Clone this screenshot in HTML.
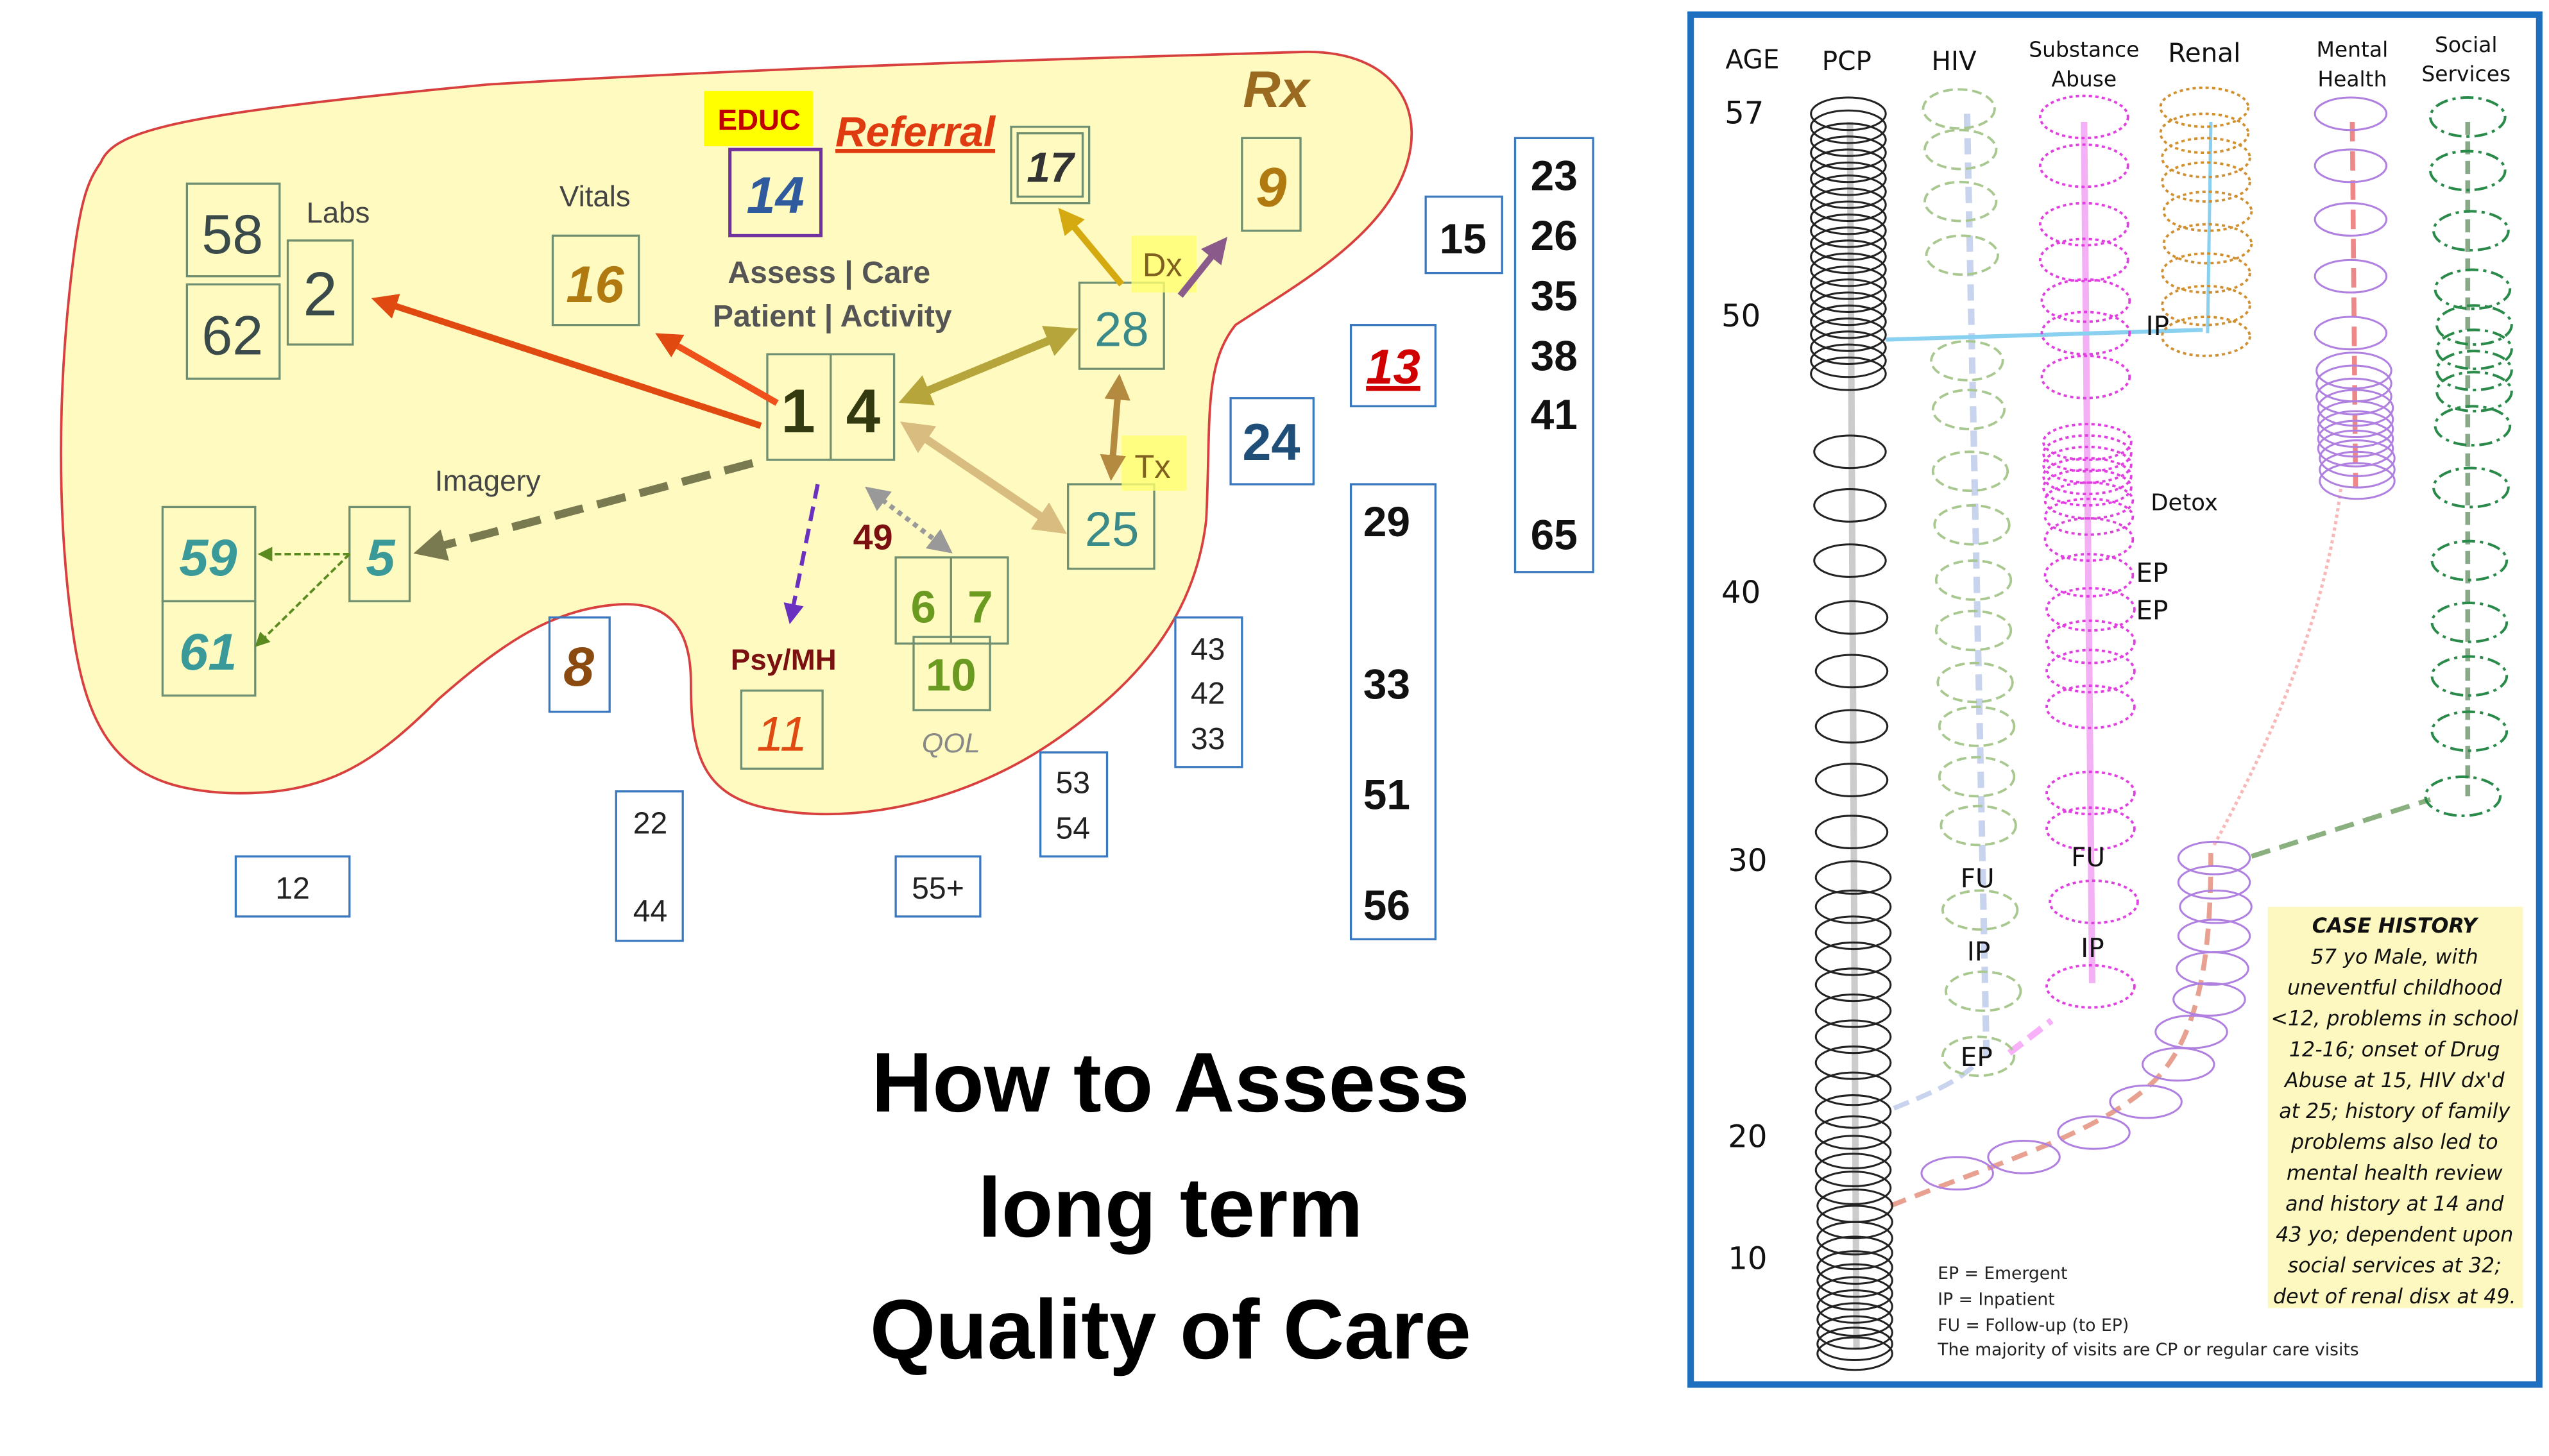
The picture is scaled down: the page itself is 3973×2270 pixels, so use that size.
<!DOCTYPE html>
<html><head><meta charset="utf-8"><style>
html,body{margin:0;padding:0;background:#fff}
svg{display:block}
text{font-family:"Liberation Sans",sans-serif}
.r text{font-family:"DejaVu Sans",sans-serif}
</style></head><body>
<svg width="3973" height="2270" viewBox="0 0 1568 896" preserveAspectRatio="none" xmlns="http://www.w3.org/2000/svg">
<defs>
<marker id="ao" markerWidth="4" markerHeight="4" refX="2" refY="2" orient="auto"><path d="M0,0L4,2L0,4z" fill="#e04a10"/></marker>
<marker id="aol" markerWidth="4" markerHeight="4" refX="2" refY="2" orient="auto-start-reverse"><path d="M0,0L4,2L0,4z" fill="#b5a53a"/></marker>
<marker id="ag" markerWidth="4" markerHeight="4" refX="2" refY="2" orient="auto"><path d="M0,0L4,2L0,4z" fill="#d4aa10"/></marker>
<marker id="ap" markerWidth="4" markerHeight="4" refX="2" refY="2" orient="auto"><path d="M0,0L4,2L0,4z" fill="#8a5a8a"/></marker>
<marker id="ab" markerWidth="4" markerHeight="4" refX="2" refY="2" orient="auto-start-reverse"><path d="M0,0L4,2L0,4z" fill="#b48a40"/></marker>
<marker id="at" markerWidth="4" markerHeight="4" refX="2" refY="2" orient="auto-start-reverse"><path d="M0,0L4,2L0,4z" fill="#d8bc80"/></marker>
<marker id="ad" markerWidth="4" markerHeight="4" refX="2" refY="2" orient="auto"><path d="M0,0L4,2L0,4z" fill="#7a7a50"/></marker>
<marker id="av" markerWidth="5" markerHeight="5" refX="2.5" refY="2.5" orient="auto"><path d="M0,0L5,2.5L0,5z" fill="#6a30c0"/></marker>
<marker id="ay" markerWidth="5" markerHeight="5" refX="2.5" refY="2.5" orient="auto-start-reverse"><path d="M0,0L5,2.5L0,5z" fill="#999"/></marker>
<marker id="agr" markerWidth="6" markerHeight="6" refX="3" refY="3" orient="auto"><path d="M0,0L6,3L0,6z" fill="#5a8a20"/></marker>
</defs>

<!-- blob -->
<path d="M62,100 C70,80 110,70 300,52 C500,40 700,35 800,32 C860,30 880,70 862,110 C845,150 790,180 760,200 C740,225 745,260 742,320 C735,380 700,420 650,455 C600,490 530,510 470,497 C430,488 425,460 425,420 C425,385 410,370 380,372 C340,375 310,395 270,430 C230,470 200,490 140,488 C80,485 55,460 45,390 C35,320 35,240 45,160 C50,120 55,110 62,100 Z" fill="#fffbc0" stroke="#d84040" stroke-width="1.5"/>

<g fill="none" stroke="#6f8f70" stroke-width="1.3">
<rect x="115" y="113" width="57" height="57"/><rect x="115" y="175" width="57" height="58"/><rect x="177" y="148" width="40" height="64"/>
<rect x="340" y="145" width="53" height="55"/>
<rect x="622" y="78" width="48" height="47"/><rect x="626" y="82" width="40" height="39"/>
<rect x="764" y="85" width="36" height="57"/>
<rect x="472" y="218" width="78" height="65"/><line x1="511" y1="218" x2="511" y2="283"/>
<rect x="664" y="174" width="52" height="53"/>
<rect x="657" y="298" width="53" height="52"/>
<rect x="215" y="312" width="37" height="58"/><rect x="100" y="312" width="57" height="58"/><rect x="100" y="370" width="57" height="58"/>
<rect x="456" y="425" width="50" height="48"/>
<rect x="551" y="343" width="69" height="53"/><line x1="585" y1="343" x2="585" y2="396"/>
<rect x="562" y="392" width="47" height="45"/>
</g>
<rect x="433" y="56" width="67" height="34" fill="#ffff00"/>
<rect x="449" y="92" width="56" height="53" fill="none" stroke="#7030a0" stroke-width="2"/>
<rect x="696" y="145" width="40" height="35" fill="#ffff70" opacity=".8"/>
<rect x="690" y="268" width="40" height="34" fill="#ffff70" opacity=".8"/>

<g fill="none" stroke="#3a78c0" stroke-width="1.3">
<rect x="877" y="121" width="47" height="47"/><rect x="831" y="200" width="52" height="50"/><rect x="757" y="245" width="51" height="53"/>
<rect x="932" y="85" width="48" height="267"/><rect x="831" y="298" width="52" height="280"/>
<rect x="723" y="380" width="41" height="92"/><rect x="640" y="463" width="41" height="64"/>
<rect x="551" y="527" width="52" height="37"/><rect x="379" y="487" width="41" height="92"/>
<rect x="145" y="527" width="70" height="37"/><rect x="338" y="380" width="37" height="58"/>
</g>

<!-- arrows -->
<line x1="468" y1="262" x2="236" y2="186" stroke="#e04a10" stroke-width="4" marker-end="url(#ao)"/>
<line x1="478" y1="248" x2="410" y2="209" stroke="#f0501a" stroke-width="4" marker-end="url(#ao)"/>
<line x1="562" y1="244" x2="654" y2="206" stroke="#b5a53a" stroke-width="5" marker-start="url(#aol)" marker-end="url(#aol)"/>
<line x1="690" y1="175" x2="656" y2="134" stroke="#d4aa10" stroke-width="4" marker-end="url(#ag)"/>
<line x1="726" y1="182" x2="750" y2="152" stroke="#8a5a8a" stroke-width="4" marker-end="url(#ap)"/>
<line x1="688" y1="238" x2="684" y2="288" stroke="#b48a40" stroke-width="4" marker-start="url(#ab)" marker-end="url(#ab)"/>
<line x1="562" y1="265" x2="648" y2="323" stroke="#d8bc80" stroke-width="5" marker-start="url(#at)" marker-end="url(#at)"/>
<line x1="463" y1="285" x2="264" y2="338" stroke="#7a7a50" stroke-width="5" stroke-dasharray="18,9" marker-end="url(#ad)"/>
<line x1="503" y1="298" x2="487" y2="378" stroke="#6a30c0" stroke-width="2.5" stroke-dasharray="9,5" marker-end="url(#av)"/>
<line x1="538" y1="304" x2="580" y2="336" stroke="#999" stroke-width="3" stroke-dasharray="3,3" marker-start="url(#ay)" marker-end="url(#ay)"/>
<line x1="215" y1="341" x2="163" y2="341" stroke="#5a8a20" stroke-width="1.5" stroke-dasharray="4,2" marker-end="url(#agr)"/>
<line x1="215" y1="341" x2="160" y2="395" stroke="#5a8a20" stroke-width="1.5" stroke-dasharray="4,2" marker-end="url(#agr)"/>

<!-- texts -->
<g text-anchor="middle">
<text x="143" y="156" font-size="34" fill="#3a4a4a">58</text>
<text x="143" y="218" font-size="34" fill="#3a4a4a">62</text>
<text x="197" y="194" font-size="38" fill="#3a4a4a">2</text>
<text x="208" y="137" font-size="18" fill="#444">Labs</text>
<text x="366" y="127" font-size="18" fill="#444">Vitals</text>
<text x="366" y="186" font-size="32" font-style="italic" font-weight="bold" fill="#b07a10">16</text>
<text x="467" y="80" font-size="18" font-weight="bold" fill="#c00000">EDUC</text>
<text x="477" y="131" font-size="32" font-style="italic" font-weight="bold" fill="#2f5a9e">14</text>
<text x="563" y="90" font-size="26" font-style="italic" font-weight="bold" fill="#e03a10" text-decoration="underline">Referral</text>
<text x="646" y="112" font-size="26" font-style="italic" font-weight="bold" fill="#333">17</text>
<text x="785" y="66" font-size="32" font-style="italic" font-weight="bold" fill="#9a6a20">Rx</text>
<text x="782" y="127" font-size="34" font-style="italic" font-weight="bold" fill="#b07a10">9</text>
<text x="510" y="174" font-size="19" font-weight="bold" fill="#555">Assess  |   Care</text>
<text x="512" y="201" font-size="19" font-weight="bold" fill="#555">Patient  | Activity</text>
<text x="491" y="266" font-size="38" font-weight="bold" fill="#333a10">1</text>
<text x="531" y="266" font-size="38" font-weight="bold" fill="#333a10">4</text>
<text x="690" y="213" font-size="30" fill="#3a8a8a">28</text>
<text x="715" y="170" font-size="20" fill="#806020">Dx</text>
<text x="709" y="294" font-size="20" fill="#806020">Tx</text>
<text x="684" y="336" font-size="30" fill="#3a8a8a">25</text>
<text x="900" y="156" font-size="26" font-weight="bold" fill="#111">15</text>
<text x="857" y="236" font-size="30" font-style="italic" font-weight="bold" fill="#d00000" text-decoration="underline">13</text>
<text x="782" y="283" font-size="32" font-weight="bold" fill="#1f4e79">24</text>
<g font-size="26" font-weight="bold" fill="#111">
<text x="956" y="117">23</text><text x="956" y="154">26</text><text x="956" y="191">35</text><text x="956" y="228">38</text><text x="956" y="264">41</text><text x="956" y="338">65</text>
<text x="853" y="330">29</text><text x="853" y="430">33</text><text x="853" y="498">51</text><text x="853" y="566">56</text>
</g>
<g font-size="19" fill="#222">
<text x="743" y="406">43</text><text x="743" y="433">42</text><text x="743" y="461">33</text>
<text x="660" y="488">53</text><text x="660" y="516">54</text>
<text x="577" y="553">55+</text>
<text x="400" y="513">22</text><text x="400" y="567">44</text>
<text x="180" y="553">12</text>
</g>
<text x="356" y="422" font-size="34" font-style="italic" font-weight="bold" fill="#8a4a10">8</text>
<text x="300" y="302" font-size="18" fill="#444">Imagery</text>
<text x="234" y="354" font-size="32" font-style="italic" font-weight="bold" fill="#3a9a9a">5</text>
<text x="128" y="354" font-size="32" font-style="italic" font-weight="bold" fill="#3a9a9a">59</text>
<text x="128" y="412" font-size="32" font-style="italic" font-weight="bold" fill="#3a9a9a">61</text>
<text x="482" y="412" font-size="18" font-weight="bold" fill="#7a1010">Psy/MH</text>
<text x="481" y="462" font-size="30" font-style="italic" fill="#e04a10">11</text>
<text x="537" y="338" font-size="22" font-weight="bold" fill="#7a1010">49</text>
<text x="568" y="383" font-size="28" font-weight="bold" fill="#6a9a20">6</text>
<text x="603" y="383" font-size="28" font-weight="bold" fill="#6a9a20">7</text>
<text x="585" y="425" font-size="28" font-weight="bold" fill="#6a9a20">10</text>
<text x="585" y="463" font-size="17" font-style="italic" fill="#888">QOL</text>
<g font-size="52" font-weight="bold" fill="#000">
<text x="720" y="684">How to Assess</text>
<text x="720" y="761">long term</text>
<text x="720" y="836">Quality of Care</text>
</g>
</g>

<!-- right panel -->
<g class="r">
<rect x="1040" y="9" width="522" height="843" fill="#fff" stroke="#1f6fc0" stroke-width="4"/>
<g text-anchor="middle" fill="#111">
<text x="1078" y="42" font-size="16">AGE</text><text x="1136" y="43" font-size="16">PCP</text><text x="1202" y="43" font-size="16">HIV</text>
<text x="1282" y="35" font-size="13">Substance</text><text x="1282" y="53" font-size="13">Abuse</text>
<text x="1356" y="38" font-size="16">Renal</text>
<text x="1447" y="35" font-size="13">Mental</text><text x="1447" y="53" font-size="13">Health</text>
<text x="1517" y="32" font-size="13">Social</text><text x="1517" y="50" font-size="13">Services</text>
<g font-size="19"><text x="1073" y="76">57</text><text x="1071" y="201">50</text><text x="1071" y="371">40</text><text x="1075" y="536">30</text><text x="1075" y="706">20</text><text x="1075" y="781">10</text></g>
</g>
<!-- guide lines -->
<line x1="1138" y1="75" x2="1142" y2="830" stroke="#ccc" stroke-width="4"/>
<line x1="1210" y1="70" x2="1222" y2="650" stroke="#c8d4ee" stroke-width="4" stroke-dasharray="10,5"/>
<line x1="1282" y1="75" x2="1287" y2="605" stroke="#f4b0f4" stroke-width="4"/>
<line x1="1360" y1="75" x2="1358" y2="205" stroke="#8ad0f0" stroke-width="2"/>
<line x1="1447" y1="75" x2="1449" y2="300" stroke="#e88" stroke-width="3" stroke-dasharray="12,6"/>
<line x1="1518" y1="75" x2="1518" y2="490" stroke="#8a8" stroke-width="3" stroke-dasharray="8,4"/>
<line x1="1160" y1="209" x2="1355" y2="203" stroke="#8ad0f0" stroke-width="2.5"/>
<path d="M1165,682 C1190,672 1205,665 1215,655" fill="none" stroke="#c8d4ee" stroke-width="3" stroke-dasharray="10,5"/>
<path d="M1236,648 L1262,628" fill="none" stroke="#f8b0f8" stroke-width="4" stroke-dasharray="10,5"/>
<path d="M1163,742 C1230,715 1300,695 1330,660 C1355,630 1360,580 1360,525" fill="none" stroke="#e8a090" stroke-width="3" stroke-dasharray="10,6"/>
<path d="M1385,527 L1495,492" stroke="#8ab080" stroke-width="3" stroke-dasharray="12,6"/>
<path d="M1362,520 C1400,450 1430,380 1440,300" fill="none" stroke="#f8b8b8" stroke-width="2" stroke-dasharray="2,2"/>

<!-- PCP -->
<g fill="none" stroke="#222" stroke-width="1.2">
<ellipse cx="1137" cy="70" rx="23" ry="10"/><ellipse cx="1137" cy="78" rx="23" ry="10"/><ellipse cx="1137" cy="86" rx="23" ry="10"/><ellipse cx="1137" cy="94" rx="23" ry="10"/><ellipse cx="1137" cy="102" rx="23" ry="10"/><ellipse cx="1137" cy="110" rx="23" ry="10"/><ellipse cx="1137" cy="118" rx="23" ry="10"/><ellipse cx="1137" cy="126" rx="23" ry="10"/><ellipse cx="1137" cy="134" rx="23" ry="10"/><ellipse cx="1137" cy="142" rx="23" ry="10"/><ellipse cx="1137" cy="150" rx="23" ry="10"/><ellipse cx="1137" cy="158" rx="23" ry="10"/><ellipse cx="1137" cy="166" rx="23" ry="10"/><ellipse cx="1137" cy="174" rx="23" ry="10"/><ellipse cx="1137" cy="182" rx="23" ry="10"/><ellipse cx="1137" cy="190" rx="23" ry="10"/><ellipse cx="1137" cy="198" rx="23" ry="10"/><ellipse cx="1137" cy="206" rx="23" ry="10"/><ellipse cx="1137" cy="214" rx="23" ry="10"/><ellipse cx="1137" cy="222" rx="23" ry="10"/><ellipse cx="1137" cy="230" rx="23" ry="10"/>
<ellipse cx="1138" cy="278" rx="22" ry="10"/><ellipse cx="1138" cy="311" rx="22" ry="10"/><ellipse cx="1138" cy="345" rx="22" ry="10"/><ellipse cx="1139" cy="380" rx="22" ry="10"/><ellipse cx="1139" cy="413" rx="22" ry="10"/><ellipse cx="1139" cy="447" rx="22" ry="10"/><ellipse cx="1139" cy="480" rx="22" ry="10"/><ellipse cx="1139" cy="512" rx="22" ry="10"/>
<ellipse cx="1140" cy="540" rx="23" ry="10"/><ellipse cx="1140" cy="558" rx="23" ry="10"/><ellipse cx="1140" cy="574" rx="23" ry="10"/><ellipse cx="1140" cy="590" rx="23" ry="10"/><ellipse cx="1140" cy="606" rx="23" ry="10"/><ellipse cx="1140" cy="622" rx="23" ry="10"/><ellipse cx="1140" cy="638" rx="23" ry="10"/><ellipse cx="1140" cy="654" rx="23" ry="10"/><ellipse cx="1140" cy="670" rx="23" ry="10"/><ellipse cx="1140" cy="684" rx="23" ry="10"/><ellipse cx="1140" cy="697" rx="23" ry="10"/><ellipse cx="1140" cy="709" rx="23" ry="10"/><ellipse cx="1140" cy="720" rx="23" ry="10"/><ellipse cx="1140" cy="731" rx="23" ry="10"/><ellipse cx="1141" cy="742" rx="23" ry="10"/><ellipse cx="1141" cy="752" rx="23" ry="10"/><ellipse cx="1141" cy="762" rx="23" ry="10"/><ellipse cx="1141" cy="771" rx="23" ry="10"/><ellipse cx="1141" cy="780" rx="23" ry="10"/><ellipse cx="1141" cy="788" rx="23" ry="10"/><ellipse cx="1141" cy="796" rx="23" ry="10"/><ellipse cx="1141" cy="804" rx="23" ry="10"/><ellipse cx="1141" cy="812" rx="23" ry="10"/><ellipse cx="1141" cy="820" rx="23" ry="10"/><ellipse cx="1141" cy="827" rx="23" ry="10"/><ellipse cx="1141" cy="833" rx="23" ry="10"/>
</g>
<!-- HIV -->
<g fill="none" stroke="#a8c890" stroke-width="1.5" stroke-dasharray="6,3">
<ellipse cx="1205" cy="67" rx="22" ry="12"/><ellipse cx="1206" cy="92" rx="22" ry="12"/><ellipse cx="1206" cy="124" rx="22" ry="12"/><ellipse cx="1207" cy="157" rx="22" ry="12"/>
<ellipse cx="1210" cy="222" rx="22" ry="12"/><ellipse cx="1211" cy="252" rx="22" ry="12"/><ellipse cx="1212" cy="290" rx="23" ry="12"/><ellipse cx="1213" cy="323" rx="23" ry="12"/><ellipse cx="1214" cy="357" rx="23" ry="12"/><ellipse cx="1214" cy="388" rx="23" ry="12"/><ellipse cx="1215" cy="420" rx="23" ry="12"/><ellipse cx="1216" cy="447" rx="23" ry="12"/><ellipse cx="1216" cy="478" rx="23" ry="12"/><ellipse cx="1217" cy="508" rx="23" ry="12"/><ellipse cx="1218" cy="560" rx="23" ry="12"/><ellipse cx="1220" cy="610" rx="23" ry="12"/><ellipse cx="1217" cy="650" rx="22" ry="12"/>
</g>
<!-- Substance -->
<g fill="none" stroke="#e040e0" stroke-width="1.5" stroke-dasharray="2,2">
<ellipse cx="1282" cy="72" rx="27" ry="13"/><ellipse cx="1282" cy="102" rx="27" ry="13"/><ellipse cx="1282" cy="138" rx="27" ry="13"/><ellipse cx="1282" cy="160" rx="27" ry="13"/><ellipse cx="1283" cy="185" rx="27" ry="13"/><ellipse cx="1283" cy="205" rx="27" ry="13"/><ellipse cx="1283" cy="232" rx="27" ry="13"/>
<ellipse cx="1284" cy="272" rx="27" ry="11"/><ellipse cx="1284" cy="279" rx="27" ry="11"/><ellipse cx="1284" cy="286" rx="27" ry="11"/><ellipse cx="1284" cy="293" rx="27" ry="11"/><ellipse cx="1284" cy="300" rx="27" ry="11"/><ellipse cx="1285" cy="308" rx="27" ry="11"/><ellipse cx="1285" cy="318" rx="27" ry="11"/>
<ellipse cx="1285" cy="332" rx="27" ry="13"/><ellipse cx="1285" cy="354" rx="27" ry="13"/><ellipse cx="1286" cy="375" rx="27" ry="13"/><ellipse cx="1286" cy="395" rx="27" ry="13"/><ellipse cx="1286" cy="413" rx="27" ry="13"/><ellipse cx="1286" cy="435" rx="27" ry="13"/><ellipse cx="1286" cy="488" rx="27" ry="13"/><ellipse cx="1286" cy="510" rx="27" ry="13"/><ellipse cx="1288" cy="555" rx="27" ry="13"/><ellipse cx="1286" cy="607" rx="27" ry="13"/>
</g>
<!-- Renal -->
<g fill="none" stroke="#d09030" stroke-width="1.5" stroke-dasharray="2,2">
<ellipse cx="1356" cy="66" rx="27" ry="12"/><ellipse cx="1356" cy="82" rx="27" ry="12"/><ellipse cx="1357" cy="97" rx="27" ry="12"/><ellipse cx="1357" cy="112" rx="27" ry="12"/><ellipse cx="1358" cy="130" rx="27" ry="12"/><ellipse cx="1358" cy="150" rx="27" ry="12"/><ellipse cx="1357" cy="168" rx="27" ry="12"/><ellipse cx="1357" cy="188" rx="27" ry="12"/><ellipse cx="1357" cy="207" rx="27" ry="12"/>
</g>
<!-- Mental -->
<g fill="none" stroke="#b080e0" stroke-width="1.2">
<ellipse cx="1446" cy="70" rx="22" ry="10"/><ellipse cx="1446" cy="102" rx="22" ry="10"/><ellipse cx="1446" cy="135" rx="22" ry="10"/><ellipse cx="1446" cy="170" rx="22" ry="10"/><ellipse cx="1446" cy="205" rx="22" ry="10"/>
<ellipse cx="1448" cy="228" rx="23" ry="11"/><ellipse cx="1448" cy="236" rx="23" ry="11"/><ellipse cx="1448" cy="244" rx="23" ry="11"/><ellipse cx="1449" cy="251" rx="23" ry="11"/><ellipse cx="1449" cy="258" rx="23" ry="11"/><ellipse cx="1449" cy="264" rx="23" ry="11"/><ellipse cx="1449" cy="270" rx="23" ry="11"/><ellipse cx="1449" cy="276" rx="23" ry="11"/><ellipse cx="1450" cy="282" rx="23" ry="11"/><ellipse cx="1450" cy="289" rx="23" ry="11"/><ellipse cx="1450" cy="296" rx="23" ry="11"/>
<ellipse cx="1362" cy="528" rx="22" ry="10"/><ellipse cx="1362" cy="543" rx="22" ry="10"/><ellipse cx="1363" cy="558" rx="22" ry="10"/><ellipse cx="1362" cy="576" rx="22" ry="10"/><ellipse cx="1361" cy="596" rx="22" ry="10"/><ellipse cx="1359" cy="615" rx="22" ry="10"/><ellipse cx="1348" cy="635" rx="22" ry="10"/><ellipse cx="1340" cy="655" rx="22" ry="10"/><ellipse cx="1320" cy="678" rx="22" ry="10"/><ellipse cx="1288" cy="697" rx="22" ry="10"/><ellipse cx="1245" cy="712" rx="22" ry="10"/><ellipse cx="1204" cy="722" rx="22" ry="10"/>
</g>
<!-- Social -->
<g fill="none" stroke="#2a8a4a" stroke-width="1.6" stroke-dasharray="8,3,2,3">
<ellipse cx="1518" cy="72" rx="23" ry="12"/><ellipse cx="1518" cy="105" rx="23" ry="12"/><ellipse cx="1520" cy="142" rx="23" ry="12"/><ellipse cx="1521" cy="178" rx="23" ry="12"/><ellipse cx="1522" cy="200" rx="23" ry="12"/><ellipse cx="1522" cy="215" rx="23" ry="12"/><ellipse cx="1522" cy="228" rx="23" ry="12"/><ellipse cx="1522" cy="241" rx="23" ry="12"/><ellipse cx="1521" cy="262" rx="23" ry="12"/><ellipse cx="1520" cy="300" rx="23" ry="12"/><ellipse cx="1519" cy="345" rx="23" ry="12"/><ellipse cx="1519" cy="383" rx="23" ry="12"/><ellipse cx="1519" cy="416" rx="23" ry="12"/><ellipse cx="1519" cy="450" rx="23" ry="12"/><ellipse cx="1515" cy="490" rx="23" ry="12"/>
</g>
<g font-size="16" fill="#111">
<text x="1320" y="206">IP</text><text x="1323" y="314" font-size="14">Detox</text><text x="1314" y="358">EP</text><text x="1314" y="381">EP</text>
<text x="1206" y="546">FU</text><text x="1210" y="591">IP</text><text x="1206" y="656">EP</text><text x="1274" y="533">FU</text><text x="1280" y="589">IP</text>
</g>
<rect x="1395" y="558" width="157" height="247" fill="#fdf8c0"/>
<g font-size="12.5" font-style="italic" fill="#111" text-anchor="middle">
<text x="1473" y="574" font-weight="bold">CASE HISTORY</text>
<text x="1473" y="593">57 yo Male, with</text><text x="1473" y="612">uneventful childhood</text><text x="1473" y="631">&lt;12, problems in school</text><text x="1473" y="650">12-16; onset of Drug</text><text x="1473" y="669">Abuse at 15, HIV dx'd</text><text x="1473" y="688">at 25; history of family</text><text x="1473" y="707">problems also led to</text><text x="1473" y="726">mental health review</text><text x="1473" y="745">and history at 14 and</text><text x="1473" y="764">43 yo; dependent upon</text><text x="1473" y="783">social services at 32;</text><text x="1473" y="802">devt of renal disx at 49.</text>
</g>
<g font-size="10.5" fill="#222">
<text x="1192" y="787">EP = Emergent</text><text x="1192" y="803">IP = Inpatient</text><text x="1192" y="819">FU = Follow-up (to EP)</text><text x="1192" y="834">The majority of visits are CP or regular care visits</text>
</g>
</g>
</svg>
</body></html>
